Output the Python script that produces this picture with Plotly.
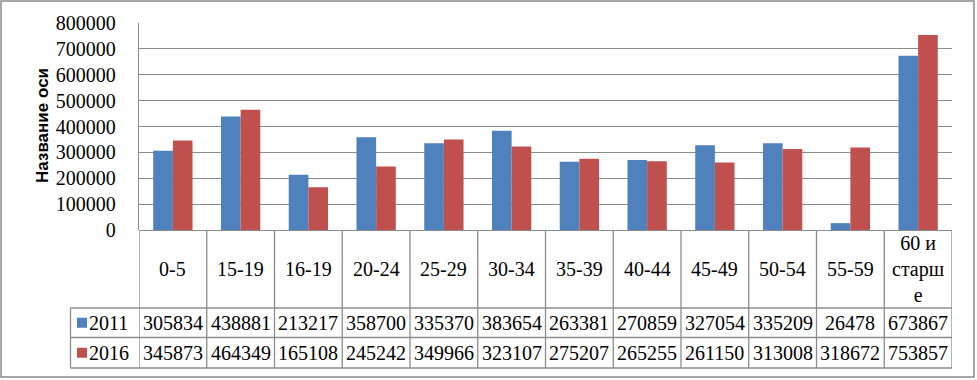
import plotly.graph_objects as go

categories = ["0-5", "15-19", "16-19", "20-24", "25-29", "30-34", "35-39",
              "40-44", "45-49", "50-54", "55-59", "60 и<br>старш<br>е"]
series_names = ["2011", "2016"]
values_2011 = [305834, 438881, 213217, 358700, 335370, 383654, 263381,
               270859, 327054, 335209, 26478, 673867]
values_2016 = [345873, 464349, 165108, 245242, 349966, 323107, 275207,
               265255, 261150, 313008, 318672, 753857]
y_ticks = [0, 100000, 200000, 300000, 400000, 500000, 600000, 700000, 800000]
colors = ["#4F81BD", "#C0504D"]

W, H = 977, 380
L, R, T, B = 139, 25, 23, 150
PW, PH = W - L - R, H - T - B
GRID = "#8c8c8c"
SERIF = "Liberation Serif, Times New Roman, serif"


def px_x(px):
    return (px - L) / PW


def px_y(py):
    return (T + PH - py) / PH


n = len(categories)
xs = list(range(n))

fig = go.Figure()
for name, vals, col in zip(series_names, [values_2011, values_2016], colors):
    fig.add_trace(go.Bar(x=xs, y=vals, name=name, marker=dict(color=col, line=dict(width=0)),
                         showlegend=False))

shapes = []
annotations = []

# table geometry (pixels)
row_top = 308
row_mid = 337.5
row_bot = 368
tbl_left = 70.5

# horizontal table lines
for py, x0 in [(row_top, tbl_left), (row_mid, tbl_left), (row_bot, tbl_left)]:
    shapes.append(dict(type="line", xref="paper", yref="paper", x0=px_x(x0), x1=1,
                       y0=px_y(py), y1=px_y(py), line=dict(color=GRID, width=1.3)))
# vertical lines at category boundaries
for i in range(n + 1):
    shapes.append(dict(type="line", xref="x", yref="paper", x0=i - 0.5, x1=i - 0.5,
                       y0=0, y1=px_y(row_bot), line=dict(color=GRID, width=1.3)))
# left border of series label column
shapes.append(dict(type="line", xref="paper", yref="paper", x0=px_x(tbl_left), x1=px_x(tbl_left),
                   y0=px_y(row_top), y1=px_y(row_bot), line=dict(color=GRID, width=1.3)))

# category labels
for i, c in enumerate(categories):
    annotations.append(dict(x=i, y=px_y(269), xref="x", yref="paper", text=c, showarrow=False,
                            font=dict(family=SERIF, size=20, color="black"),
                            xanchor="center", yanchor="middle", align="center"))

# data rows
for r, (name, vals, col) in enumerate(zip(series_names, [values_2011, values_2016], colors)):
    cy = (row_top + row_mid) / 2 if r == 0 else (row_mid + row_bot) / 2
    for i, v in enumerate(vals):
        annotations.append(dict(x=i, y=px_y(cy), xref="x", yref="paper", text=str(v),
                                showarrow=False, font=dict(family=SERIF, size=20, color="black"),
                                xanchor="center", yanchor="middle"))
    # legend key
    shapes.append(dict(type="rect", xref="paper", yref="paper", x0=px_x(77), x1=px_x(87),
                       y0=px_y(cy - 5), y1=px_y(cy + 5), fillcolor=col, line=dict(width=0)))
    annotations.append(dict(x=px_x(87), y=px_y(cy), xref="paper", yref="paper", text=name,
                            showarrow=False, font=dict(family=SERIF, size=20, color="black"),
                            xanchor="left", yanchor="middle"))

# y axis title
annotations.append(dict(x=px_x(42), y=px_y(126), xref="paper", yref="paper", text="<b>Название оси</b>",
                        showarrow=False, textangle=-90,
                        font=dict(family="Liberation Sans, Arial, sans-serif", size=17, color="black"),
                        xanchor="center", yanchor="middle"))

# chart border
shapes.append(dict(type="rect", xref="paper", yref="paper", x0=px_x(1), x1=px_x(974),
                   y0=px_y(377), y1=px_y(1), line=dict(color="#8a8a8a", width=1.5),
                   fillcolor="rgba(0,0,0,0)"))

fig.update_layout(
    width=W, height=H,
    margin=dict(l=L, r=R, t=T, b=B),
    paper_bgcolor="white", plot_bgcolor="white",
    barmode="group", bargap=0.42, bargroupgap=0,
    shapes=shapes, annotations=annotations,
    xaxis=dict(range=[-0.5, n - 0.5], showticklabels=False, showgrid=False, zeroline=False,
               showline=False, fixedrange=True),
    yaxis=dict(range=[0, 800000], tickvals=y_ticks, ticktext=[str(t) for t in y_ticks],
               showgrid=True, gridcolor=GRID, gridwidth=1.3, zeroline=True,
               zerolinecolor=GRID, zerolinewidth=1.3, showline=True, linecolor=GRID, linewidth=1.3,
               tickfont=dict(family=SERIF, size=20, color="black"), ticks="",
               ticklabelstandoff=18, fixedrange=True),
)

fig.write_html("out.html", config={"displayModeBar": False},
               post_script="document.body.style.margin='0';document.body.style.padding='0';")
